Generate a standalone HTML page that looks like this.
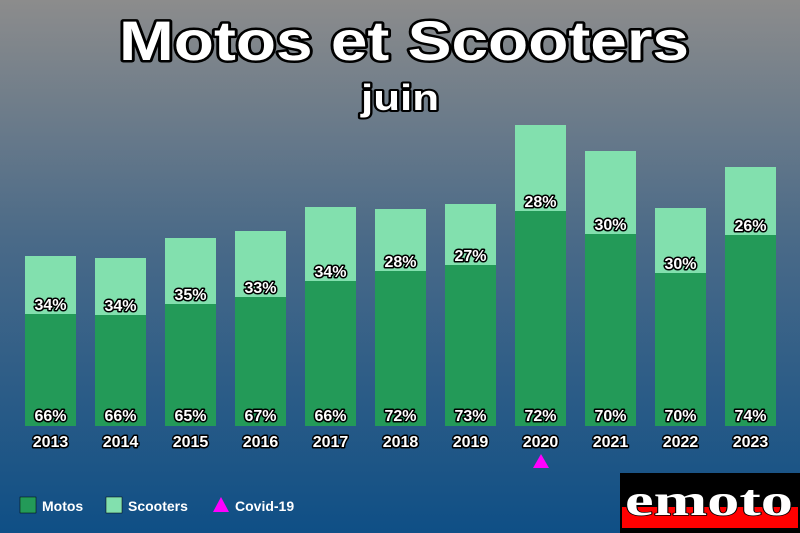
<!DOCTYPE html>
<html><head><meta charset="utf-8"><style>
html,body{margin:0;padding:0;width:800px;height:533px;overflow:hidden}
svg{display:block}
text{font-family:"Liberation Sans",sans-serif;font-weight:bold;fill:#fff;stroke:#000;paint-order:stroke;stroke-linejoin:round}
</style></head><body>
<svg width="800" height="533" viewBox="0 0 800 533">
<defs><linearGradient id="bg" x1="0" y1="0" x2="0" y2="1">
<stop offset="0" stop-color="#8c8c8c"/><stop offset="0.45" stop-color="#4a6a88"/><stop offset="1" stop-color="#0f4f86"/></linearGradient></defs>
<rect width="800" height="533" fill="url(#bg)"/>
<text x="404" y="60" font-size="56" text-anchor="middle" stroke-width="5" textLength="570" lengthAdjust="spacingAndGlyphs">Motos et Scooters</text>
<text x="400" y="110" font-size="36" text-anchor="middle" stroke-width="4" textLength="78" lengthAdjust="spacingAndGlyphs">juin</text>
<g id="bars"></g>
<polygon points="541,454 533,468 549,468" fill="#ff00ff"/>
<rect x="20" y="497" width="16" height="16" fill="#239a58" stroke="#000" stroke-width="0.5"/>
<text x="42" y="511" font-size="14" style="stroke:none">Motos</text>
<rect x="106" y="497" width="16" height="16" fill="#82e0ae" stroke="#000" stroke-width="0.5"/>
<text x="128" y="511" font-size="14" style="stroke:none">Scooters</text>
<polygon points="221,497 213,512 229,512" fill="#ff00ff"/>
<text x="235" y="511" font-size="14" style="stroke:none">Covid-19</text>
<rect x="620" y="473" width="180" height="60" fill="#000"/>
<rect x="622" y="507" width="176" height="21" fill="#ff0000"/>
<text x="709" y="515" font-size="44" text-anchor="middle" style="font-family:'Liberation Serif',serif;stroke:#000" stroke-width="1.5" textLength="168" lengthAdjust="spacingAndGlyphs">emoto</text>
</svg>
<script>
var d=[[2013,256,314,34,66],[2014,258,315,34,66],[2015,238,304,35,65],[2016,231,297,33,67],[2017,207,281,34,66],[2018,209,271,28,72],[2019,204,265,27,73],[2020,125,211,28,72],[2021,151,234,30,70],[2022,208,273,30,70],[2023,167,235,26,74]];
var s='';
d.forEach(function(r,i){var x=25+i*70,c=x+25.5;
s+='<rect x="'+x+'" y="'+r[1]+'" width="51" height="'+(r[2]-r[1])+'" fill="#82e0ae"/>';
s+='<rect x="'+x+'" y="'+r[2]+'" width="51" height="'+(426-r[2])+'" fill="#239a58"/>';
s+='<text x="'+c+'" y="'+(r[2]-4)+'" font-size="16" text-anchor="middle" stroke-width="3">'+r[3]+'%</text>';
s+='<text x="'+c+'" y="421" font-size="16" text-anchor="middle" stroke-width="3">'+r[4]+'%</text>';
s+='<text x="'+c+'" y="447" font-size="16" text-anchor="middle" stroke-width="3">'+r[0]+'</text>';});
document.getElementById('bars').innerHTML=s;
</script>
</body></html>
